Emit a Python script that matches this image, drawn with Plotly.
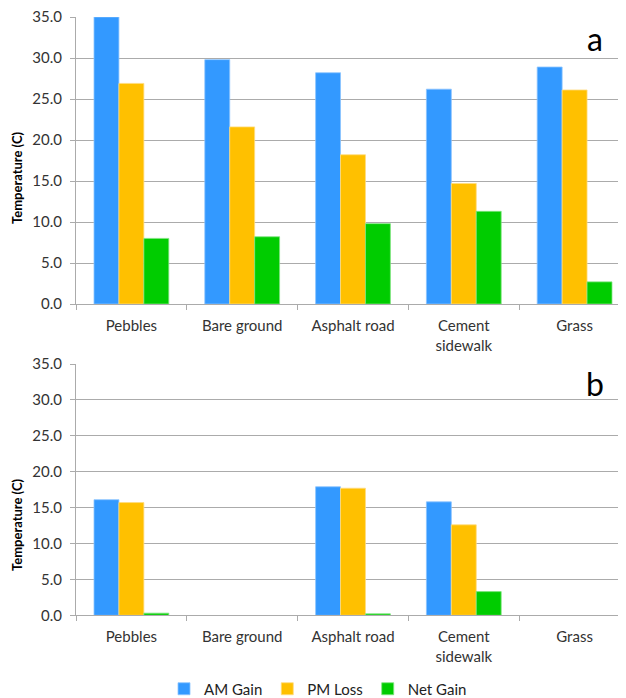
import plotly.graph_objects as go

categories = ["Pebbles", "Bare ground", "Asphalt road", "Cement<br>sidewalk", "Grass"]
series_names = ["AM Gain", "PM Loss", "Net Gain"]

a_am = [35.0, 29.8, 28.2, 26.2, 28.9]
a_pm = [26.9, 21.6, 18.2, 14.7, 26.1]
a_net = [8.0, 8.2, 9.8, 11.3, 2.7]

b_am = [16.1, None, 17.9, 15.8, None]
b_pm = [15.7, None, 17.7, 12.6, None]
b_net = [0.3, None, 0.2, 3.3, None]

yticks = [0, 5, 10, 15, 20, 25, 30, 35]

colors = ["#3399FF", "#FFC000", "#00CC00"]
edge = ["#8CC4FF", "#FFDC80", "#7FE57F"]

W, H = 626, 698
O = 8  # page offset of the figure inside the browser window
L, R = 76 - O, O
PW = W - L - R

fig = go.Figure()

for panel, (vals, xa, ya) in enumerate([((a_am, a_pm, a_net), "x", "y"),
                                        ((b_am, b_pm, b_net), "x2", "y2")]):
    for i, v in enumerate(vals):
        fig.add_trace(go.Bar(
            x=categories, y=v, name=series_names[i],
            marker=dict(color=colors[i], line=dict(color=edge[i], width=0.8)),
            xaxis=xa, yaxis=ya, showlegend=(panel == 0),
            legendgroup=series_names[i],
        ))

font = "Lato, 'Open Sans', sans-serif"
grid = "#ABABAB"
tickfont = dict(family=font, size=15, color="#333333")

def xaxis(anchor):
    return dict(
        anchor=anchor, domain=[0, 1], type="category",
        range=[-0.5, 4.464], showgrid=False, showline=True, linecolor=grid,
        linewidth=1, ticks="outside", tickson="boundaries", ticklen=5,
        tickcolor=grid, tickfont=tickfont, fixedrange=True, automargin=False,
        ticklabeloverflow="allow", ticklabelstandoff=8,
    )

def yaxis(anchor, top, bottom):
    return dict(
        anchor=anchor, domain=[1 - (bottom - O) / H, 1 - (top - O) / H],
        range=[0, 35], tickvals=yticks, tickformat=".1f", showgrid=True,
        gridcolor=grid, gridwidth=1, showline=True, linecolor=grid,
        ticks="outside", ticklen=5, tickcolor=grid, tickfont=tickfont,
        ticklabelstandoff=5, zeroline=False, automargin=False,
        ticklabeloverflow="allow",
    )

def px(x):
    return (x - O - L) / PW

def py(y):
    return 1 - (y - O) / H

def ann(text, x, y, size, angle=0, bold=False):
    return dict(text=f"<b>{text}</b>" if bold else text,
                x=px(x), y=py(y), xref="paper", yref="paper",
                xanchor="center", yanchor="middle",
                showarrow=False, textangle=angle,
                font=dict(family=font, size=size, color="black"))

fig.update_layout(
    width=W, height=H,
    margin=dict(l=L, r=R, t=0, b=0, autoexpand=False),
    paper_bgcolor="white", plot_bgcolor="white",
    barmode="group", bargap=0.325, bargroupgap=0,
    xaxis=xaxis("y"), yaxis=yaxis("x", 17, 304),
    xaxis2=xaxis("y2"), yaxis2=yaxis("x2", 364, 615.3),
    legend=dict(orientation="h", x=px(318), xanchor="center",
                y=py(689), yanchor="middle",
                font=dict(family=font, size=15, color="#222222"),
                traceorder="normal", itemwidth=30, tracegroupgap=0),
    showlegend=True,
    annotations=[
        ann("a", 595, 38, 32),
        ann("b", 595, 383, 32),
        ann("Temperature (C)", 17, 178, 13, angle=-90, bold=True),
        ann("Temperature (C)", 17, 525, 13, angle=-90, bold=True),
    ],
)

fig.write_html("out.html")
